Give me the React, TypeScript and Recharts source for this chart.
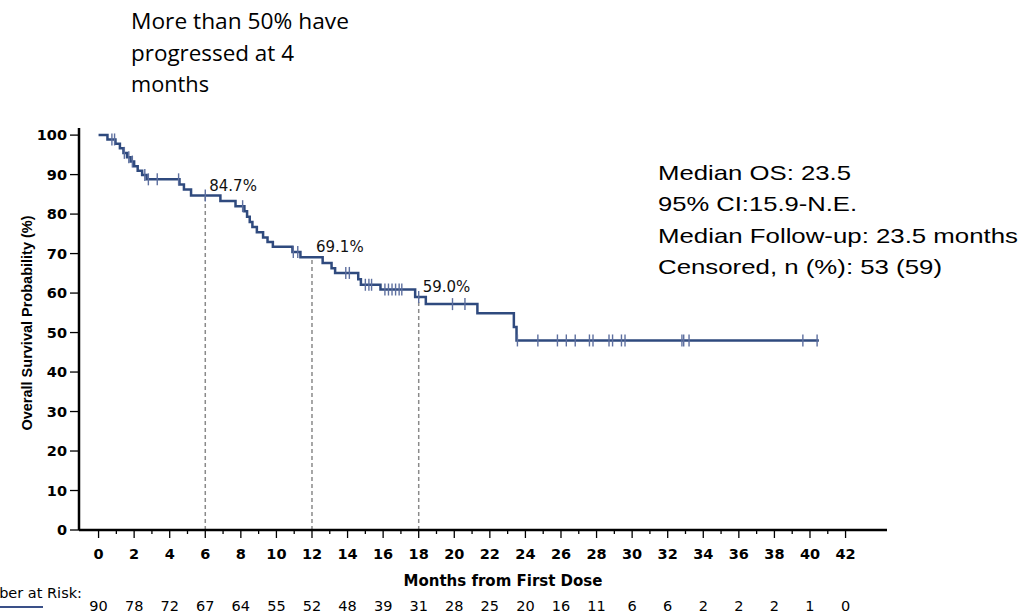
import React from 'react';
import { ComposedChart, Line, Scatter, XAxis, YAxis, ReferenceLine } from 'recharts';

// Kaplan-Meier steps (months, survival %)
const stepTimes = [0, 0.5, 0.95, 1.2, 1.4, 1.6, 1.8, 2.0, 2.2, 2.45, 2.7, 4.55, 4.8, 5.2, 6.85, 7.7, 8.2, 8.35, 8.5, 8.65, 8.9, 9.25, 9.5, 9.8, 10.9, 11.35, 12.6, 13.1, 13.3, 14.6, 14.75, 15.85, 17.8, 18.4, 21.3, 23.35, 23.5, 40.5];
const stepSurvival = [100, 98.9, 97.8, 96.7, 95.5, 94.4, 93.3, 92.1, 91.0, 89.9, 88.8, 87.5, 86.2, 84.7, 83.3, 82.0, 80.7, 79.3, 78.0, 76.7, 75.4, 74.1, 72.9, 71.7, 70.4, 69.1, 67.6, 66.3, 65.1, 63.5, 62.1, 60.9, 59.0, 57.2, 54.9, 51.4, 48.0, 48.0];

// censored patients
const censorTimes = [0.75, 0.9, 1.45, 1.7, 1.9, 2.6, 2.8, 3.3, 4.5, 6.0, 8.1, 10.95, 11.2, 13.9, 14.1, 15.0, 15.2, 15.35, 16.1, 16.3, 16.5, 16.7, 16.9, 17.05, 18.0, 19.9, 20.6, 23.55, 24.7, 25.8, 26.3, 26.8, 27.6, 27.8, 28.7, 28.9, 29.4, 29.6, 32.8, 32.9, 33.2, 39.6, 40.4];
const censorSurvival = [98.9, 98.9, 95.5, 94.4, 93.3, 89.9, 88.8, 88.8, 88.8, 84.7, 82.0, 70.4, 70.4, 65.1, 65.1, 62.1, 62.1, 62.1, 60.9, 60.9, 60.9, 60.9, 60.9, 60.9, 59.0, 57.2, 57.2, 48.0, 48.0, 48.0, 48.0, 48.0, 48.0, 48.0, 48.0, 48.0, 48.0, 48.0, 48.0, 48.0, 48.0, 48.0, 48.0];

// landmark estimates
const milestoneMonths = [6, 12, 18];
const milestoneValues = [84.7, 69.1, 59.0];

const xTicks = Array.from({ length: 43 }, (_, i) => i);
const yTicks = [0, 10, 20, 30, 40, 50, 60, 70, 80, 90, 100];
const riskCounts = [90, 78, 72, 67, 64, 55, 52, 48, 39, 31, 28, 25, 20, 16, 11, 6, 6, 2, 2, 2, 1, 0];

const statsLines = ['Median OS: 23.5', '95% CI:15.9-N.E.', 'Median Follow-up: 23.5 months', 'Censored, n (%): 53 (59)'];
const statsWidths = [193, 199, 360, 284];
const noteLines = ['More than 50% have', 'progressed at 4', 'months'];
const noteWidths = [218, 163, 78];

const curveData = stepTimes.map((t, i) => ({ t, s: stepSurvival[i] }));
const censorData = censorTimes.map((t, i) => ({ t, s: censorSurvival[i] }));
const milestoneData = milestoneMonths.map((t, i) => ({ t, s: milestoneValues[i] }));

const LINE = '#2f4a7e';

function XTick(props: any) {
  const { x, y, payload } = props;
  const m = payload.value;
  const major = m % 2 === 0;
  return (
    <g>
      <line x1={x} x2={x} y1={y} y2={y + (major ? 8 : 4)} stroke="#000" strokeWidth={1.3} />
      {major && (
        <text x={x} y={y + 29} textAnchor="middle" fontFamily="DejaVu Sans" fontWeight="bold" fontSize={14.5} fill="#000">
          {m}
        </text>
      )}
      {major && (
        <text x={x} y={y + 81} textAnchor="middle" fontFamily="DejaVu Sans" fontSize={14.5} fill="#000">
          {riskCounts[m / 2]}
        </text>
      )}
    </g>
  );
}

const CensorMark = (props: any) => {
  const { cx, cy } = props;
  return <line x1={cx} x2={cx} y1={cy - 6} y2={cy + 6} stroke="#5d6f9f" strokeWidth={1.4} />;
};

const MilestoneLabel = (props: any) => {
  const { cx, cy, payload } = props;
  return (
    <text x={cx + 4} y={cy - 5} fontFamily="DejaVu Sans" fontSize={15} fill="#111">
      {payload.s.toFixed(1)}%
    </text>
  );
};

export default function App() {
  return (
    <div style={{ position: 'absolute', left: 0, top: 0, width: 1019, height: 616, background: '#fff' }}>
      <ComposedChart width={1019} height={616} margin={{ top: 128, right: 132, bottom: 0, left: 0 }}>
        <XAxis
          type="number"
          dataKey="t"
          domain={[-1.1, 44.33]}
          ticks={xTicks}
          interval={0}
          height={86}
          tickSize={0}
          tickMargin={0}
          tickLine={false}
          tick={<XTick />}
          axisLine={{ stroke: '#000', strokeWidth: 2.5 }}
          allowDataOverflow
        />
        <YAxis
          type="number"
          dataKey="s"
          domain={[0, 101.8]}
          ticks={yTicks}
          interval={0}
          width={79}
          tickSize={9}
          tickMargin={3}
          tickLine={{ stroke: '#000', strokeWidth: 1.3 }}
          axisLine={{ stroke: '#000', strokeWidth: 2.5 }}
          tick={{ fontFamily: 'DejaVu Sans', fontWeight: 'bold', fontSize: 14.5, fill: '#000' }}
          allowDataOverflow
        />
        {milestoneMonths.map((m, i) => (
          <ReferenceLine
            key={m}
            segment={[{ x: m, y: 0 }, { x: m, y: milestoneValues[i] }]}
            stroke="#8a8a8a"
            strokeWidth={1.5}
            strokeDasharray="4 3"
          />
        ))}
        <Line
          data={curveData}
          dataKey="s"
          type="stepAfter"
          stroke={LINE}
          strokeWidth={2.5}
          dot={false}
          activeDot={false}
          isAnimationActive={false}
        />
        <Scatter data={censorData} dataKey="s" shape={<CensorMark />} isAnimationActive={false} />
        <Scatter data={milestoneData} dataKey="s" shape={<MilestoneLabel />} isAnimationActive={false} />
      </ComposedChart>
      <svg width={1019} height={616} style={{ position: 'absolute', left: 0, top: 0, pointerEvents: 'none' }}>
        {noteLines.map((l, i) => (
          <text key={l} x={131} y={29 + i * 31.5} fontFamily="Open Sans" fontSize={21} fill="#000" textLength={noteWidths[i]} lengthAdjust="spacingAndGlyphs">
            {l}
          </text>
        ))}
        {statsLines.map((l, i) => (
          <text key={l} x={658} y={180 + i * 31.3} fontFamily="Liberation Sans" fontSize={21} fill="#000" textLength={statsWidths[i]} lengthAdjust="spacingAndGlyphs">
            {l}
          </text>
        ))}
        <text x={32} y={323} transform="rotate(-90 32 323)" textAnchor="middle" fontFamily="Liberation Sans" fontWeight="bold" fontSize={14.5} fill="#000">
          Overall Survival Probability (%)
        </text>
        <text x={503} y={586} textAnchor="middle" fontFamily="DejaVu Sans" fontWeight="bold" fontSize={15} fill="#000">
          Months from First Dose
        </text>
        <text x={-35} y={598} fontFamily="DejaVu Sans" fontSize={14.5} fill="#000">
          Number at Risk:
        </text>
        <line x1={0} x2={43} y1={607} y2={607} stroke="#3a5088" strokeWidth={2} />
      </svg>
    </div>
  );
}
